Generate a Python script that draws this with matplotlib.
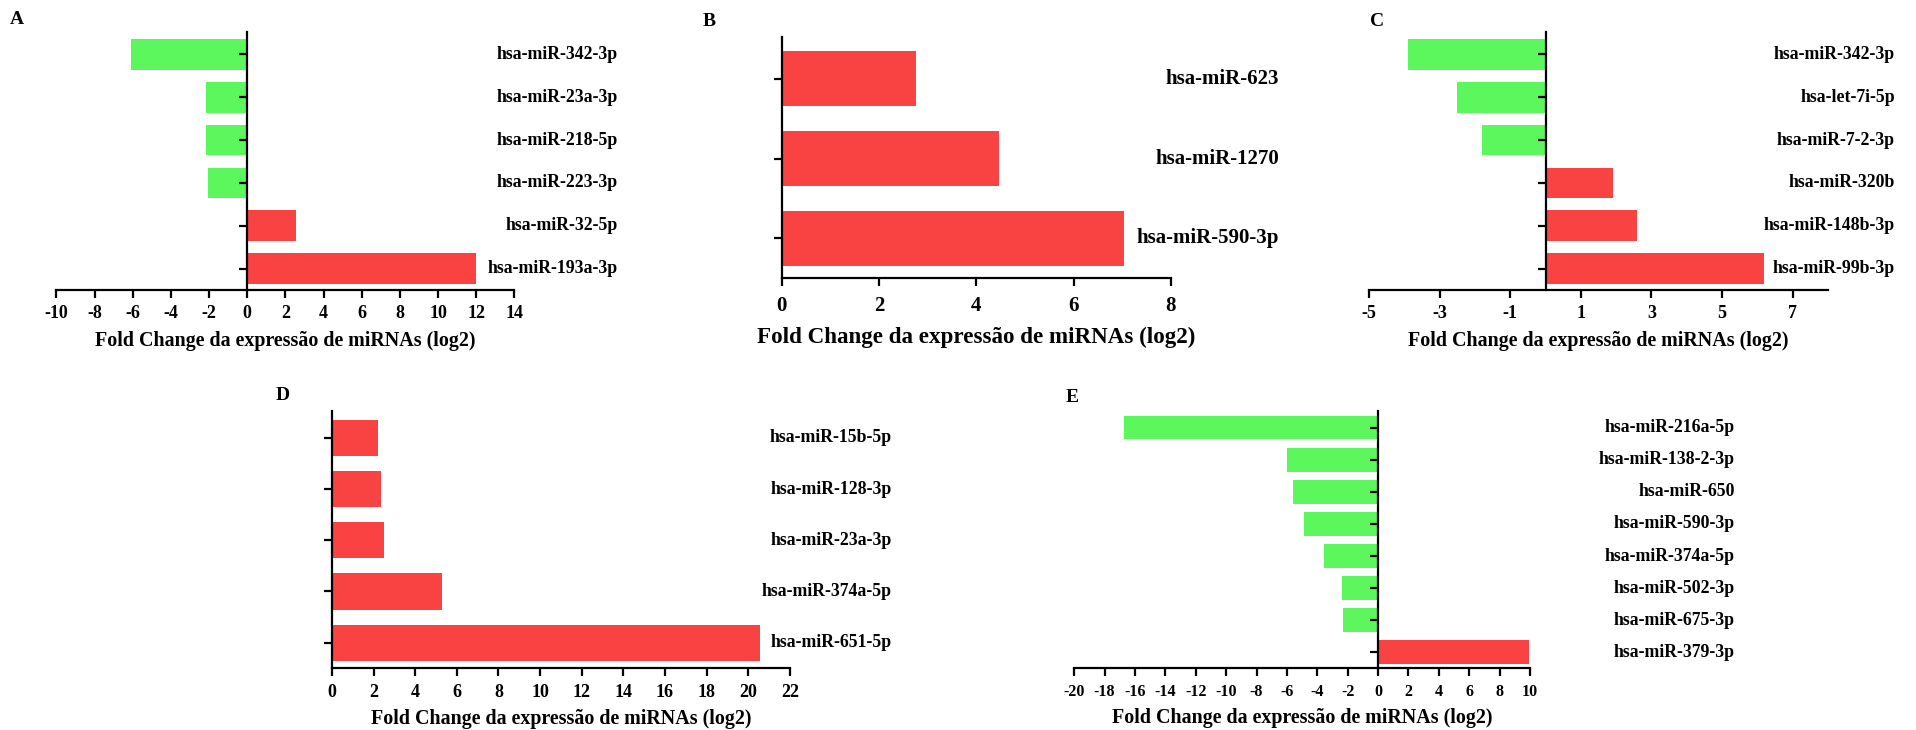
import matplotlib
matplotlib.use('Agg')
import matplotlib.pyplot as plt
import matplotlib.transforms as mtransforms
import numpy as np

plt.rcParams['font.family'] = ['Liberation Serif', 'DejaVu Serif']
plt.rcParams['font.weight'] = 'bold'

UP = '#f94343'
DOWN = '#5cf75c'
XLABEL = 'Fold Change da expressão de miRNAs (log2)'

# panel A
a_labels = ['hsa-miR-342-3p', 'hsa-miR-23a-3p', 'hsa-miR-218-5p',
            'hsa-miR-223-3p', 'hsa-miR-32-5p', 'hsa-miR-193a-3p']
a_values = [-6.1, -2.15, -2.15, -2.05, 2.55, 12.0]
a_ticks = list(range(-10, 15, 2))

# panel B
b_labels = ['hsa-miR-623', 'hsa-miR-1270', 'hsa-miR-590-3p']
b_values = [2.77, 4.46, 7.04]
b_ticks = list(range(0, 9, 2))

# panel C
c_labels = ['hsa-miR-342-3p', 'hsa-let-7i-5p', 'hsa-miR-7-2-3p',
            'hsa-miR-320b', 'hsa-miR-148b-3p', 'hsa-miR-99b-3p']
c_values = [-3.9, -2.5, -1.8, 1.92, 2.58, 6.2]
c_ticks = list(range(-5, 8, 2))

# panel D
d_labels = ['hsa-miR-15b-5p', 'hsa-miR-128-3p', 'hsa-miR-23a-3p',
            'hsa-miR-374a-5p', 'hsa-miR-651-5p']
d_values = [2.2, 2.36, 2.48, 5.31, 20.55]
d_ticks = list(range(0, 23, 2))

# panel E
e_labels = ['hsa-miR-216a-5p', 'hsa-miR-138-2-3p', 'hsa-miR-650',
            'hsa-miR-590-3p', 'hsa-miR-374a-5p', 'hsa-miR-502-3p',
            'hsa-miR-675-3p', 'hsa-miR-379-3p']
e_values = [-16.7, -5.97, -5.58, -4.9, -3.56, -2.39, -2.3, 9.96]
e_ticks = list(range(-20, 11, 2))

W, H = 1916, 730
fig = plt.figure(figsize=(W / 100, H / 100), dpi=100)


def px_axes(x0, x1, y0, y1):
    # axes box given in pixel coords (y from top)
    return fig.add_axes([x0 / W, 1 - y1 / H, (x1 - x0) / W, (y1 - y0) / H])


def draw_panel(ax, labels, values, ticks, xlim, label_right,
               tick_fs=13, label_fs=12.8, xlabel_fs=14.4,
               bar_h=0.715, pad=5, labelpad=6):
    n = len(labels)
    pos = np.arange(n)
    colors = [UP if v > 0 else DOWN for v in values]
    ax.barh(pos, values, height=bar_h, color=colors, edgecolor='none', zorder=1)
    ax.set_xlim(*xlim)
    ax.set_ylim(n - 0.5, -0.53)
    ax.set_xticks(ticks)
    ax.set_xticklabels([str(t) for t in ticks], fontsize=tick_fs, fontweight='bold')
    ax.set_yticks(pos)
    ax.set_yticklabels([])
    for s in ['top', 'right']:
        ax.spines[s].set_visible(False)
    ax.spines['left'].set_position(('data', 0))
    for s in ['left', 'bottom']:
        ax.spines[s].set_linewidth(1.6)
        ax.spines[s].set_zorder(3)
    ax.tick_params(axis='both', direction='out', length=6, width=1.6, pad=pad)
    ax.set_xlabel(XLABEL, fontsize=xlabel_fs, fontweight='bold', labelpad=labelpad)
    trans = mtransforms.blended_transform_factory(fig.transFigure, ax.transData)
    for p, lab in zip(pos, labels):
        ax.text(label_right / W, p, lab, transform=trans, ha='right', va='center',
                fontsize=label_fs, fontweight='bold')


ax_a = px_axes(56.4, 514.4, 31.7, 290)
draw_panel(ax_a, a_labels, a_values, a_ticks, (-10, 14), 618)

ax_b = px_axes(781.8, 1170.8, 36.7, 278.3)
draw_panel(ax_b, b_labels, b_values, b_ticks, (0, 8), 1279,
           tick_fs=15, label_fs=15, xlabel_fs=16.6, bar_h=0.69, pad=7, labelpad=7.5)

ax_c = px_axes(1369, 1828, 31.7, 290)
draw_panel(ax_c, c_labels, c_values, c_ticks, (-5, 8), 1895)

ax_d = px_axes(331.9, 789.9, 410.7, 668.3)
draw_panel(ax_d, d_labels, d_values, d_ticks, (0, 22), 891.7, bar_h=0.71)

ax_e = px_axes(1074.2, 1530, 410.7, 668.3)
draw_panel(ax_e, e_labels, e_values, e_ticks, (-20, 10), 1735,
           tick_fs=11.5, bar_h=0.735)

# panel letters
for letter, x, y in [('A', 17, 19), ('B', 709, 22), ('C', 1377, 21),
                     ('D', 283, 396), ('E', 1072, 398)]:
    fig.text(x / W, 1 - y / H, letter, ha='center', va='center',
             fontsize=14, fontweight='bold')

fig.savefig('out.png', dpi=100)
